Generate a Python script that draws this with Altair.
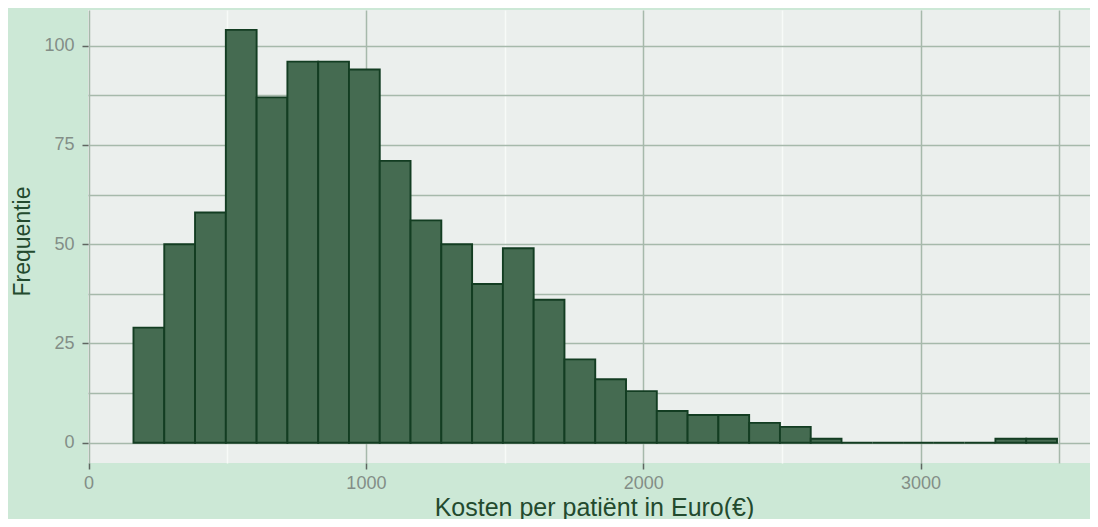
import altair as alt
import pandas as pd

# Bin edges (euro) and frequencies
bin_edges = [162, 273, 384, 495, 606, 717, 828, 939, 1050, 1161, 1272, 1383,
             1494, 1605, 1716, 1827, 1938, 2049, 2160, 2271, 2382, 2493, 2604,
             2715, 2826, 2937, 3048, 3159, 3270, 3381, 3492]
counts = [29, 50, 58, 104, 87, 96, 96, 94, 71, 56, 50, 40, 49, 36, 21, 16, 13,
          8, 7, 7, 5, 4, 1, 0, 0, 0, 0, 0, 1, 1]

x_ticks = [0, 500, 1000, 1500, 2000, 2500, 3000, 3500]
y_ticks = [0, 12.5, 25, 37.5, 50, 62.5, 75, 87.5, 100]

df = pd.DataFrame({"lo": bin_edges[:-1], "hi": bin_edges[1:], "n": counts})

FONT = "Liberation Sans"
GRID = "#a6b9ab"
LABEL = "#838e87"
TITLE = "#234a2e"

x_axis = alt.Axis(
    values=x_ticks,
    labelExpr="datum.value % 1000 == 0 ? format(datum.value, 'd') : ''",
    tickOpacity={"condition": {"test": "datum.value % 1000 != 0", "value": 0}, "value": 1},
    gridColor={"condition": {"test": "datum.value % 1000 == 500 && datum.value < 3500",
                             "value": "#f7faf8"}, "value": GRID},
    gridWidth=1.5,
    domain=False,
    tickSize=6, tickColor="#5e6660", tickWidth=1.5,
    labelFont=FONT, labelFontSize=18, labelColor=LABEL, labelPadding=5,
    labelFlush=False,
    titleFont=FONT, titleFontSize=25, titleColor=TITLE, titleFontWeight="normal",
    titleX=506, titleY=52, titleBaseline="alphabetic",
)

y_axis = alt.Axis(
    values=y_ticks,
    labelExpr="datum.value % 25 == 0 ? format(datum.value, 'd') : ''",
    tickOpacity={"condition": {"test": "datum.value % 25 != 0", "value": 0}, "value": 1},
    gridColor=GRID, gridWidth=1.5,
    domain=False,
    tickSize=6, tickColor="#5e6660", tickWidth=1.5,
    labelFont=FONT, labelFontSize=18, labelColor=LABEL, labelPadding=8,
    titleFont=FONT, titleFontSize=23, titleColor=TITLE, titleFontWeight="normal",
    titleX=-59, titleY=231, titleBaseline="alphabetic", titleAngle=270,
)

chart = alt.Chart(df).mark_bar(
    fill="#456b51", stroke="#133d22", strokeWidth=1.9
).encode(
    x=alt.X("lo:Q", scale=alt.Scale(domain=[-2, 3611], nice=False, zero=False),
            axis=x_axis, title="Kosten per patiënt in Euro(€)"),
    x2="hi:Q",
    y=alt.Y("n:Q", scale=alt.Scale(domain=[-5.1, 109], nice=False, zero=False),
            axis=y_axis, title="Frequentie"),
    y2=alt.datum(0),
).properties(
    width=1002, height=453,
    background="#cce8d6",
    padding={"left": 80, "top": 2, "right": 0, "bottom": 56},
    autosize=alt.AutoSizeParams(type="none"),
).configure_view(fill="#ebefed", stroke=None)

chart.save("out.html", embed_options={"renderer": "svg", "actions": False})
